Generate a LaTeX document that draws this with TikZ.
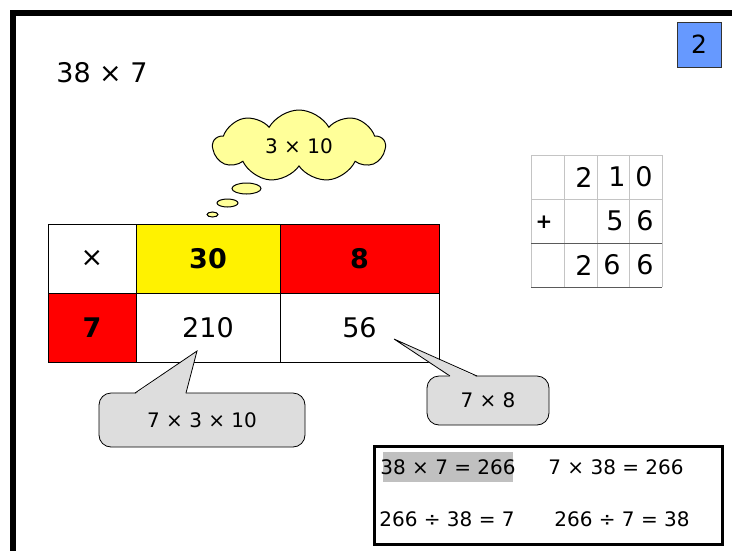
\documentclass[tikz,border=0pt]{standalone}
\usepackage{fontspec}
\setmainfont{DejaVu Sans}
\usetikzlibrary{positioning,shapes.symbols}

\definecolor{boxblue}{HTML}{6699FF}
\definecolor{cloudyellow}{HTML}{FFFF99}
\definecolor{calloutgray}{HTML}{DDDDDD}
\definecolor{markgray}{HTML}{C0C0C0}
\definecolor{gridgray}{HTML}{C4C4C4}
\definecolor{rulegray}{HTML}{5A5A5A}

\newcommand\fs[1]{\fontsize{#1}{#1}\selectfont}

\tikzset{
  cell/.style={draw, line width=0.8pt, minimum width=#1, minimum height=69pt, inner sep=0pt, font=\fs{27}},
  digit/.style={inner sep=0pt, font=\fs{27}},
  bubble/.style={draw, fill=calloutgray, rounded corners=12pt, line width=0.8pt, inner sep=0pt, font=\fs{20}},
  fact/.style={inner sep=0pt, font=\fs{20}},
}

\begin{document}
\begin{tikzpicture}[x=1pt,y=-1pt]
	%% page and frame
	\useasboundingbox (0,0) rectangle (732,550);
	\clip (0,0) rectangle (732,550);
	\fill[white] (0,0) rectangle (732,550);
	\draw[line width=6pt] (13,13) rectangle (760,580);

	\node[font=\fs{27}, inner sep=0pt] (title) at (102,73) {38 × 7};
	\node[draw=black!80, fill=boxblue, minimum width=44pt, minimum height=45pt, font=\fs{25}] (page) at (699,44.5) {2};

	% grid method
	\node[cell=88pt] (times) at (92,258.5) {×};
	\node[cell=144pt, fill=yellow] (tens) at (208,258.5) {\bfseries 30};
	\node[cell=159pt, fill=red] (ones) at (359.5,258.5) {\bfseries 8};
	\node[cell=88pt, fill=red] (seven) at (92,327.5) {\bfseries 7};
	\node[cell=144pt] (p210) at (208,327.5) {210};
	\node[cell=159pt] (p56) at (359.5,327.5) {56};

	% thought cloud
	\node[cloud, cloud puffs=9, cloud puff arc=120, aspect=2.4, draw, line width=1pt, fill=cloudyellow,
	      minimum width=172pt, minimum height=72pt, inner sep=0pt, font=\fs{20}] (think) at (299,146) {3 × 10};
	\draw[line width=1pt, fill=cloudyellow] (246.5,188.5) ellipse [x radius=14.5pt, y radius=5.5pt];
	\draw[line width=1pt, fill=cloudyellow] (227.5,203) ellipse [x radius=10.5pt, y radius=4pt];
	\draw[line width=1pt, fill=cloudyellow] (212.5,214.5) ellipse [x radius=5.5pt, y radius=2.5pt];

	% callouts
	\node[bubble, minimum width=206pt, minimum height=54pt] (why210) at (202,420) {7 × 3 × 10};
	\coordinate (tip210) at (197,351);
	\fill[calloutgray] (135.5,394) -- (tip210) -- (185.5,394) -- cycle;
	\draw[line width=0.8pt] (135,393) -- (tip210) -- (186,393);

	\node[bubble, minimum width=122pt, minimum height=49pt] (why56) at (488,400.5) {7 × 8};
	\coordinate (tip56) at (394,339);
	\fill[calloutgray] (450.5,377) -- (tip56) -- (476.5,377) -- cycle;
	\draw[line width=0.8pt] (450,376) -- (tip56) -- (477,376);

	% column addition
	\foreach \x in {531,564,597,629,662}
		\draw[gridgray, line width=1pt] (\x,155) -- (\x,287);
	\draw[gridgray, line width=1pt] (531,155) -- (662,155) (531,199) -- (662,199);
	\draw[rulegray, line width=1pt] (531,243) -- (662,243) (531,287) -- (662,287);
	\foreach \d/\x/\y [count=\i] in {2/584/177, 1/617/177, 0/644/177,
	                                 5/615/221, 6/645/221,
	                                 2/584/265, 6/612/265, 6/645/265}
		\node[digit] (sum\i) at (\x,\y) {\d};
	\node[digit, font=\fs{20}\bfseries] (plus) at (544,222) {+};

	% related facts
	\node[draw, line width=3pt, minimum width=348pt, minimum height=98pt] (facts) at (548.4,495.5) {};
	\node[fill=markgray, minimum width=130pt, minimum height=30pt, inner sep=0pt] (mark) at (448,467) {};
	\node[fact] (f1) at (448,467) {38 × 7 = 266};
	\node[fact] (f2) at (616,467) {7 × 38 = 266};
	\node[fact] (f3) at (447,519) {266 ÷ 38 = 7};
	\node[fact] (f4) at (622,519) {266 ÷ 7 = 38};
\end{tikzpicture}
\end{document}
